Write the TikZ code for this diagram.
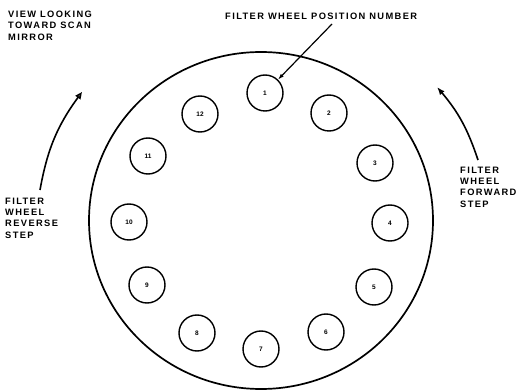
\documentclass[tikz,border=0pt]{standalone}
\usepackage{fontspec}
\setmainfont{Liberation Sans}
\newfontfamily\capsfont[LetterSpace=15]{Liberation Sans}
\usetikzlibrary{arrows.meta, shapes.geometric}

\begin{document}
\begin{tikzpicture}[
  x=1pt, y=-1pt,
  caption/.style={font=\capsfont\bfseries\fontsize{9.3}{11.4}\selectfont,
                  align=left, inner sep=0pt, anchor=west},
  slot/.style={draw, circle, line width=1.4pt, minimum size=36pt,
               inner sep=0pt, font=\bfseries\fontsize{6.5}{7}\selectfont},
  steparrow/.style={line width=1.6pt},
]
  \useasboundingbox (0,0) rectangle (517,390);

  % WHEEL
  \node[draw, ellipse, line width=1.7pt, minimum width=344pt,
        minimum height=337pt, inner sep=0pt] (wheel) at (261,220.5) {};

  % POSITIONS
  \node[slot] (n1)  at (265,93)  {1};
  \node[slot] (n2)  at (329,113) {2};
  \node[slot] (n3)  at (375,163) {3};
  \node[slot] (n4)  at (390,223) {4};
  \node[slot] (n5)  at (374,287) {5};
  \node[slot] (n6)  at (326,332) {6};
  \node[slot] (n7)  at (261,349) {7};
  \node[slot] (n8)  at (197,333) {8};
  \node[slot] (n9)  at (147,285) {9};
  \node[slot] (n10) at (129,222) {10};
  \node[slot] (n11) at (148,156) {11};
  \node[slot] (n12) at (200,114) {12};

  % LABELS
  \node[caption] (view) at (8,25.5) {VIEW LOOKING\\TOWARD SCAN\\MIRROR};
  \node[caption] (posn) at (225,16) {FILTER WHEEL POSITION NUMBER};
  \node[caption] (rev)  at (5,218)  {FILTER\\WHEEL\\REVERSE\\STEP};
  \node[caption] (fwd)  at (460,187) {FILTER\\WHEEL\\FORWARD\\STEP};

  % ARROWS
  \coordinate (ptr) at (332,24);
  \draw[line width=1.2pt, -{Latex[length=6pt, width=4pt]}] (ptr) -- (n1);

  \coordinate (revA) at (40,190);
  \coordinate (revB) at (82,92);
  \draw[steparrow, -{Triangle[open, length=7pt, width=6pt]}]
    (revA) to[bend left=13] (revB);

  \coordinate (fwdA) at (478,160);
  \coordinate (fwdB) at (437,87);
  \draw[steparrow, -{Latex[length=8pt, width=6pt]}]
    (fwdA) to[bend right=11] (fwdB);
\end{tikzpicture}
\end{document}
